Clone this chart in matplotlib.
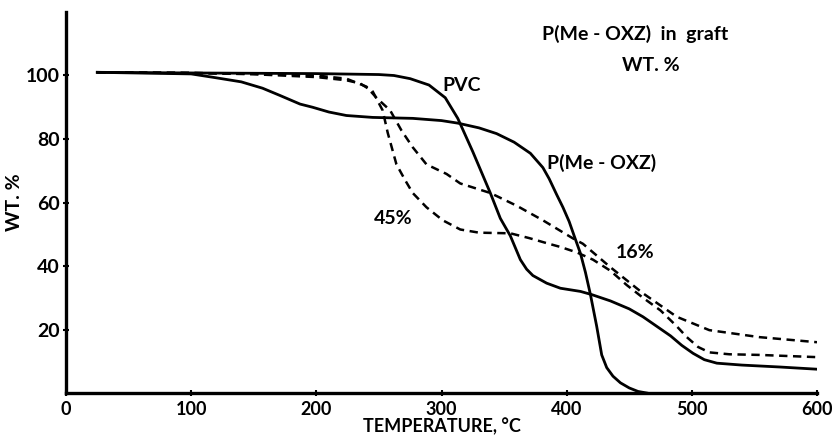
import matplotlib
matplotlib.use('Agg')
import matplotlib.pyplot as plt

# TGA curves (temperature in C, weight %)
pvc_t = [25, 100, 200, 250, 262, 275, 290, 303, 313, 325, 339, 347, 355, 363, 368, 373, 384, 395, 411, 420, 435, 450, 461, 472, 483, 492, 501, 510, 520, 540, 570, 600]
pvc_w = [101, 100.8, 100.6, 100.3, 100, 99, 97, 93, 86.5, 76, 63, 55, 49.5, 42, 39, 37, 34.6, 33, 32, 31, 29, 26.5, 24, 21, 18, 15, 12.5, 10.5, 9.4, 8.8, 8.2, 7.5]

oxz_t = [25, 100, 118, 140, 157, 171, 187, 197, 210, 224, 245, 277, 300, 313, 330, 344, 358, 371, 381, 386, 392, 397, 402, 406, 411, 415, 419, 424, 428, 432, 437, 443, 450, 457, 464]
oxz_w = [101, 100.5, 99.4, 98, 96, 93.7, 91, 90, 88.5, 87.4, 86.8, 86.5, 85.8, 85, 83.5, 81.7, 79, 75.5, 71, 67.5, 62.5, 58.5, 54, 49.5, 44, 38, 31, 21, 12, 8, 5.3, 3.2, 1.6, 0.5, 0]

g45_t = [25, 100, 150, 200, 224, 235, 245, 253, 257, 264, 271, 277, 288, 301, 315, 330, 355, 370, 384, 395, 408, 421, 435, 448, 461, 475, 488, 496, 505, 514, 530, 554, 600]
g45_w = [101, 100.8, 100.4, 99.5, 98.5, 97.5, 95, 89, 82, 72, 67, 63, 58.5, 54.4, 51.5, 50.5, 50.3, 48.8, 47.2, 46, 44.3, 42, 38.5, 34, 30, 26, 21, 17.6, 14.5, 12.8, 12.2, 12, 11.3]

g16_t = [25, 100, 150, 200, 224, 240, 248, 259, 268, 277, 288, 304, 315, 339, 360, 381, 405, 413, 435, 461, 488, 514, 554, 600]
g16_w = [101, 100.8, 100.5, 100, 99, 96.5, 93, 89, 82.7, 77.4, 72, 69, 66, 63, 59, 54.4, 48.7, 47, 39.6, 31.4, 24, 19.8, 17.6, 16]

xticks = [0, 100, 200, 300, 400, 500, 600]
yticks = [20, 40, 60, 80, 100]

plt.rcParams['font.family'] = ['Lato', 'DejaVu Sans']
plt.rcParams['font.weight'] = 'bold'
plt.rcParams['lines.scale_dashes'] = False
plt.rcParams['lines.solid_joinstyle'] = 'round'
plt.rcParams['lines.dash_joinstyle'] = 'round'

fig = plt.figure(figsize=(8.4, 4.41), dpi=100)
ax = fig.add_axes([0.0786, 0.1088, 0.894, 0.864])

ax.plot(pvc_t, pvc_w, color='black', lw=2.0)
ax.plot(oxz_t, oxz_w, color='black', lw=2.0)
ax.plot(g45_t, g45_w, color='black', lw=1.8, dashes=(6, 4))
ax.plot(g16_t, g16_w, color='black', lw=1.8, dashes=(6, 4))

fs = 14
ax.text(316, 97, 'PVC', fontsize=fs, fontweight='bold', ha='center', va='center')
ax.text(384, 72.3, 'P(Me - OXZ)', fontsize=fs, fontweight='bold', ha='left', va='center')
ax.text(261, 55, '45%', fontsize=fs, fontweight='bold', ha='center', va='center')
ax.text(455, 44.3, '16%', fontsize=fs, fontweight='bold', ha='center', va='center')
ax.text(455, 113, 'P(Me - OXZ)  in  graft', fontsize=fs, fontweight='bold', ha='center', va='center')
ax.text(467, 103, 'WT. %', fontsize=fs, fontweight='bold', ha='center', va='center')

ax.set_xlim(0, 600)
ax.set_ylim(0, 120)
ax.set_xticks(xticks)
ax.set_yticks(yticks)
ax.tick_params(direction='inout', length=5, width=1.5, labelsize=fs, pad=2)
ax.tick_params(axis='x', labelsize=13, pad=3)
for lab in ax.get_xticklabels() + ax.get_yticklabels():
    lab.set_fontweight('bold')
ax.spines['top'].set_visible(False)
ax.spines['right'].set_visible(False)
ax.spines['left'].set_linewidth(2.4)
ax.spines['bottom'].set_linewidth(2.4)
ax.set_xlabel('TEMPERATURE, °C', fontsize=13, fontweight='bold', labelpad=0)
ax.set_ylabel('WT. %', fontsize=fs, fontweight='bold', labelpad=2)

fig.savefig('out.png', dpi=100)
